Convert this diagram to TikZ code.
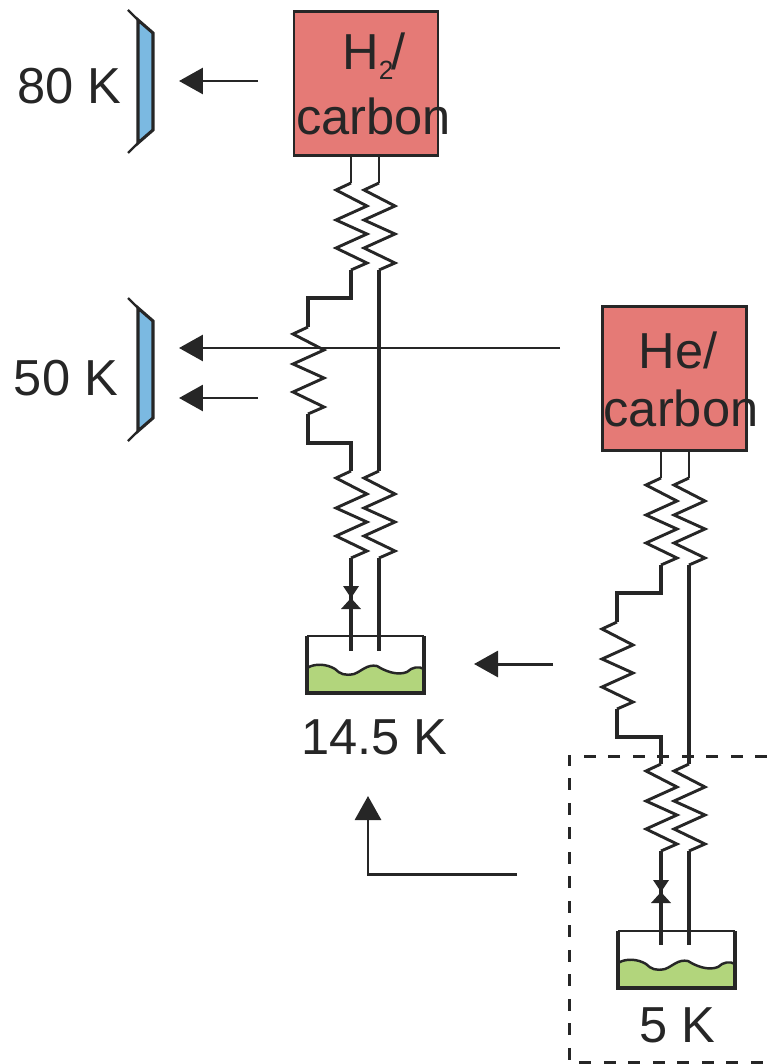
\documentclass[tikz,border=0pt]{standalone}
\usepackage{fontspec}
\setmainfont{Liberation Sans}
\usetikzlibrary{arrows.meta}

\definecolor{boxred}{HTML}{E57A76}
\definecolor{panelblue}{HTML}{7BB9E1}
\definecolor{liquidgreen}{HTML}{B2D57C}
\definecolor{inkdark}{HTML}{262626}

\tikzset{
    wire/.style={draw=inkdark,line width=1.75pt},
    thinwire/.style={draw=inkdark,line width=1.3pt},
    heatflow/.style={draw=inkdark,line width=1.7pt,-{Triangle[length=0.48cm,width=0.52cm]}},
    sorbbox/.style={draw=inkdark,fill=boxred,line width=1.6pt,minimum width=2.88cm,minimum height=2.88cm,inner sep=0pt},
    biglabel/.style={inner sep=0pt,text=inkdark,font=\fontsize{28.8pt}{34pt}\selectfont},
    coil/.pic={
        \coordinate (-in) at (0,0);
        \coordinate (-out) at (0,87);
        \draw[wire,line width=1.65pt,line join=miter] (0,0) -- (-15,7) -- (16,23) -- (-15,37) -- (16,51) -- (-15,65) -- (16,80) -- (0,87);
    },
    valve/.pic={
        \fill[inkdark] (-8,-12) -- (8,-12) -- (0,0) -- (10,11) -- (-10,11) -- (0,0) -- cycle;
    },
    bath/.pic={
        \fill[liquidgreen] (0,32) .. controls (8,27) and (20,28) .. (28,33) .. controls (33,38) and (38,40) .. (47,38) .. controls (55,35) and (60,28) .. (70,30) .. controls (78,35) and (90,40) .. (100,36) .. controls (105,31) and (112,30) .. (117,33) -- (117,57) -- (0,57) -- cycle;
        \draw[inkdark,line width=1.4pt] (0,32) .. controls (8,27) and (20,28) .. (28,33) .. controls (33,38) and (38,40) .. (47,38) .. controls (55,35) and (60,28) .. (70,30) .. controls (78,35) and (90,40) .. (100,36) .. controls (105,31) and (112,30) .. (117,33);
        \draw[inkdark,line width=1.4pt] (0,0) -- (117,0);
        \draw[wire] (117,0) -- (117,57) -- (0,57) -- (0,0);
    },
    panel/.pic={
        \draw[wire,fill=panelblue] (138,20) -- (153,33) -- (153,130) -- (138,143) -- cycle;
        \draw[thinwire] (138,20) -- (128,10);
        \draw[thinwire] (138,143) -- (128,153);
    }
}

\begin{document}
\begin{tikzpicture}[x=0.02cm,y=-0.02cm]
    \useasboundingbox (0,0) rectangle (767,1064);

    % shields
    \pic at (0,0) {panel};
    \pic at (0,288) {panel};
    \node[biglabel] (labeleighty) at (69.5,86) {80 K};
    \node[biglabel] (labelfifty) at (66,378) {50 K};

    % sorption boxes
    \node[sorbbox] (hydrogenbox) at (366,83.5) {};
    \node[biglabel] (hydrogentop) at (374,56) {H\raisebox{-5.7pt}{\fontsize{15pt}{16pt}\selectfont 2}\kern-1pt/};
    \node[biglabel] (hydrogenbot) at (373.5,116) {carbon};
    \node[sorbbox] (heliumbox) at (674.5,378.5) {};
    \node[biglabel] (heliumtop) at (678,350) {He/};
    \node[biglabel] (heliumbot) at (681,408) {carbon};

    % baths
    \pic (bathhigh) at (307,636) {bath};
    \pic (bathlow) at (618,931) {bath};
    \node[biglabel] (labelhigh) at (374.5,737) {14.5 K};
    \node[biglabel] (labellow) at (677.5,1025) {5 K};

    % hydrogen stage
    \pic (coilA) at (351,183) {coil};
    \pic (coilB) at (379,183) {coil};
    \pic (coilC) at (308,327) {coil};
    \pic (coilD) at (351,471) {coil};
    \pic (coilE) at (379,471) {coil};
    \pic at (351,598) {valve};
    \coordinate (stepA) at (308,298);
    \coordinate (stepB) at (308,443);
    \coordinate (endA) at (351,651);
    \coordinate (endB) at (379,651);
    \draw[thinwire] (hydrogenbox.south -| coilA-in) -- (coilA-in);
    \draw[thinwire] (hydrogenbox.south -| coilB-in) -- (coilB-in);
    \draw[wire] (coilA-out) |- (stepA) -- (coilC-in);
    \draw[wire] (coilC-out) -- (stepB) -| (coilD-in);
    \draw[wire] (coilB-out) -- (coilE-in);
    \draw[wire] (coilD-out) -- (endA);
    \draw[wire] (coilE-out) -- (endB);

    % helium stage
    \pic (coilF) at (661,478) {coil};
    \pic (coilG) at (689,478) {coil};
    \pic (coilH) at (617,622) {coil};
    \pic (coilI) at (661,764) {coil};
    \pic (coilJ) at (689,764) {coil};
    \pic at (661,892) {valve};
    \coordinate (stepC) at (617,593);
    \coordinate (stepD) at (617,737);
    \coordinate (endC) at (661,945);
    \coordinate (endD) at (689,945);
    \draw[thinwire] (heliumbox.south -| coilF-in) -- (coilF-in);
    \draw[thinwire] (heliumbox.south -| coilG-in) -- (coilG-in);
    \draw[wire] (coilF-out) |- (stepC) -- (coilH-in);
    \draw[wire] (coilH-out) -- (stepD) -| (coilI-in);
    \draw[wire] (coilG-out) -- (coilJ-in);
    \draw[wire] (coilI-out) -- (endC);
    \draw[wire] (coilJ-out) -- (endD);

    % heat flow
    \coordinate (flowAs) at (258,81);
    \coordinate (flowAe) at (179,81);
    \coordinate (flowBs) at (560,348);
    \coordinate (flowBe) at (179,348);
    \coordinate (flowCs) at (258,398);
    \coordinate (flowCe) at (179,398);
    \coordinate (flowDs) at (553,664);
    \coordinate (flowDe) at (474,664);
    \coordinate (flowEs) at (517,874);
    \coordinate (flowEe) at (368,796);
    \draw[heatflow] (flowAs) -- (flowAe);
    \draw[heatflow] (flowBs) -- (flowBe);
    \draw[heatflow] (flowCs) -- (flowCe);
    \draw[heatflow] (flowDs) -- (flowDe);
    \draw[heatflow] (flowEs) -| (flowEe);

    % cold stage outline
    \draw[inkdark,line width=1.7pt,dash pattern=on 0.24cm off 0.25cm] (767,756) -- (569,756) -- (569,1062) -- (767,1062);
\end{tikzpicture}
\end{document}
